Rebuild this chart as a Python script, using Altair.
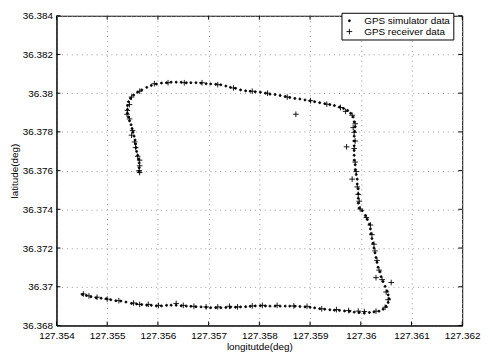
import altair as alt
import pandas as pd

# GPS simulator data (small dots)
sim_lon = [127.35451, 127.35459, 127.35468, 127.35478, 127.35488, 127.35498, 127.35507, 127.35517, 127.35527, 127.35537,
           127.35548, 127.35558, 127.35568, 127.35578, 127.35587, 127.35597, 127.35607, 127.35617, 127.35626, 127.35636,
           127.35646, 127.35656, 127.35665, 127.35675, 127.35685, 127.35695, 127.35704, 127.35714, 127.35724, 127.35734,
           127.35743, 127.35753, 127.35763, 127.35773, 127.35782, 127.35792, 127.35802, 127.35812, 127.35821, 127.35831,
           127.35841, 127.35851, 127.35860, 127.35870, 127.35880, 127.35890, 127.35900, 127.35909, 127.35919, 127.35929,
           127.35939, 127.35948, 127.35958, 127.35968, 127.35978, 127.35987, 127.35997, 127.36007, 127.36017, 127.36026,
           127.36036, 127.36044, 127.36050, 127.36054, 127.36056, 127.36054, 127.36052, 127.36048, 127.36044, 127.36040,
           127.36038, 127.36034, 127.36032, 127.36030, 127.36028, 127.36026, 127.36024, 127.36022, 127.36020, 127.36019,
           127.36017, 127.36013, 127.36009, 127.36003, 127.35997, 127.35995, 127.35995, 127.35995, 127.35995, 127.35993,
           127.35993, 127.35991, 127.35989, 127.35989, 127.35987, 127.35987, 127.35987, 127.35987, 127.35987, 127.35987,
           127.35988, 127.35989, 127.35987, 127.35985, 127.35980, 127.35974, 127.35966, 127.35958, 127.35948, 127.35939,
           127.35929, 127.35919, 127.35909, 127.35900, 127.35890, 127.35880, 127.35870, 127.35860, 127.35851, 127.35841,
           127.35831, 127.35821, 127.35812, 127.35802, 127.35792, 127.35782, 127.35773, 127.35763, 127.35753, 127.35743,
           127.35734, 127.35724, 127.35714, 127.35704, 127.35695, 127.35685, 127.35675, 127.35665, 127.35656, 127.35646,
           127.35636, 127.35626, 127.35617, 127.35607, 127.35597, 127.35587, 127.35578, 127.35568, 127.35560, 127.35552,
           127.35546, 127.35542, 127.35540, 127.35540, 127.35540, 127.35542, 127.35544, 127.35547, 127.35549, 127.35551,
           127.35553, 127.35555, 127.35556, 127.35557, 127.35558, 127.35560, 127.35562, 127.35563, 127.35563, 127.35563]
sim_lat = [36.36960, 36.36955, 36.36948, 36.36943, 36.36941, 36.36938, 36.36933, 36.36928, 36.36926, 36.36921,
           36.36914, 36.36911, 36.36908, 36.36905, 36.36904, 36.36901, 36.36901, 36.36904, 36.36905, 36.36905,
           36.36902, 36.36900, 36.36899, 36.36897, 36.36896, 36.36894, 36.36892, 36.36892, 36.36892, 36.36893,
           36.36894, 36.36894, 36.36896, 36.36897, 36.36899, 36.36901, 36.36902, 36.36901, 36.36900, 36.36900,
           36.36900, 36.36900, 36.36900, 36.36899, 36.36898, 36.36896, 36.36894, 36.36891, 36.36887, 36.36884,
           36.36881, 36.36879, 36.36878, 36.36875, 36.36873, 36.36869, 36.36867, 36.36864, 36.36867, 36.36870,
           36.36874, 36.36884, 36.36899, 36.36919, 36.36938, 36.36958, 36.36978, 36.37002, 36.37027, 36.37052,
           36.37077, 36.37101, 36.37126, 36.37151, 36.37175, 36.37200, 36.37225, 36.37249, 36.37274, 36.37299,
           36.37323, 36.37348, 36.37368, 36.37393, 36.37407, 36.37432, 36.37457, 36.37481, 36.37506, 36.37531,
           36.37556, 36.37580, 36.37605, 36.37630, 36.37654, 36.37679, 36.37704, 36.37728, 36.37753, 36.37778,
           36.37802, 36.37827, 36.37852, 36.37877, 36.37896, 36.37911, 36.37921, 36.37928, 36.37936, 36.37941,
           36.37946, 36.37951, 36.37956, 36.37961, 36.37965, 36.37970, 36.37973, 36.37978, 36.37983, 36.37988,
           36.37993, 36.37995, 36.38000, 36.38005, 36.38007, 36.38010, 36.38012, 36.38017, 36.38025, 36.38030,
           36.38037, 36.38043, 36.38046, 36.38048, 36.38049, 36.38052, 36.38054, 36.38054, 36.38054, 36.38056,
           36.38057, 36.38057, 36.38054, 36.38052, 36.38047, 36.38040, 36.38030, 36.38017, 36.38005, 36.37990,
           36.37973, 36.37956, 36.37936, 36.37916, 36.37896, 36.37877, 36.37857, 36.37837, 36.37817, 36.37798,
           36.37778, 36.37758, 36.37738, 36.37719, 36.37699, 36.37679, 36.37659, 36.37640, 36.37615, 36.37595]

# GPS receiver data (+ markers)
rec_lon = [127.35453, 127.35464, 127.35480, 127.35500, 127.35523, 127.35552, 127.35564, 127.35581, 127.35601, 127.35636,
           127.35650, 127.35671, 127.35695, 127.35718, 127.35741, 127.35757, 127.35786, 127.35806, 127.35835, 127.35868,
           127.35894, 127.35923, 127.35952, 127.35976, 127.35995, 127.36007, 127.36030, 127.36048, 127.36054, 127.36050,
           127.36042, 127.36030, 127.36060, 127.36036, 127.36032, 127.36028, 127.36026, 127.36022, 127.36019, 127.36011,
           127.35999, 127.35997, 127.35995, 127.35993, 127.35983, 127.35991, 127.35989, 127.35972, 127.35987, 127.35989,
           127.35987, 127.35985, 127.35989, 127.35983, 127.35970, 127.35960, 127.35933, 127.35901, 127.35872, 127.35855,
           127.35816, 127.35786, 127.35749, 127.35718, 127.35687, 127.35652, 127.35620, 127.35593, 127.35564, 127.35548,
           127.35544, 127.35540, 127.35539, 127.35544, 127.35550, 127.35548, 127.35554, 127.35556, 127.35560, 127.35564,
           127.35564, 127.35563, 127.35564]
rec_lat = [36.36963, 36.36953, 36.36946, 36.36936, 36.36928, 36.36916, 36.36909, 36.36909, 36.36904, 36.36914,
           36.36904, 36.36899, 36.36896, 36.36896, 36.36899, 36.36896, 36.36901, 36.36904, 36.36904, 36.36901,
           36.36899, 36.36886, 36.36882, 36.36877, 36.36874, 36.36872, 36.36874, 36.36894, 36.36933, 36.36973,
           36.37037, 36.37047, 36.37022, 36.37086, 36.37136, 36.37185, 36.37220, 36.37269, 36.37319, 36.37358,
           36.37402, 36.37442, 36.37477, 36.37516, 36.37556, 36.37595, 36.37644, 36.37723, 36.37714, 36.37753,
           36.37798, 36.37822, 36.37842, 36.37886, 36.37906, 36.37926, 36.37943, 36.37961, 36.37891, 36.37980,
           36.38000, 36.38010, 36.38027, 36.38044, 36.38054, 36.38054, 36.38054, 36.38049, 36.38010, 36.37980,
           36.37941, 36.37911, 36.37891, 36.37867, 36.37807, 36.37783, 36.37748, 36.37719, 36.37674, 36.37654,
           36.37625, 36.37600, 36.37590]

x_ticks = [127.354, 127.355, 127.356, 127.357, 127.358, 127.359, 127.360, 127.361, 127.362]
y_ticks = [36.368, 36.370, 36.372, 36.374, 36.376, 36.378, 36.380, 36.382, 36.384]

series_names = ["GPS simulator data", "GPS receiver data"]

df = pd.concat([
    pd.DataFrame({"lon": sim_lon, "lat": sim_lat, "series": series_names[0]}),
    pd.DataFrame({"lon": rec_lon, "lat": rec_lat, "series": series_names[1]}),
])

W, H = 410, 313
PAD_L, PAD_T, PAD_R = 49, 6, 20
PAD_B = 346 - PAD_T - H
FONT = "Liberation Sans"
PLUS = "M-1,0L1,0M0,-1L0,1"
X_TITLE = "longitutde(deg)"
Y_TITLE = "latitude(deg)"

xs = alt.Scale(domain=[127.354, 127.362], nice=False, zero=False)
ys = alt.Scale(domain=[36.368, 36.384], nice=False, zero=False)

leg = alt.Legend(title=None, orient="none", legendX=288, legendY=-3,
                 strokeColor="black", fillColor="white", padding=3,
                 labelFont=FONT, labelFontSize=10, labelColor="black",
                 rowPadding=1, labelOffset=10, symbolStrokeWidth=0.9,
                 cornerRadius=0)

x_axis = alt.Axis(values=x_ticks, format=".6~f", grid=True, ticks=False,
                  labelOverlap=False, labelFlush=False, labelPadding=5, titlePadding=1)
y_axis = alt.Axis(values=y_ticks, format=".3~f", grid=True, ticks=False,
                  labelOverlap=False, labelFlush=False, labelPadding=4, titlePadding=3)

points = alt.Chart(df).mark_point(stroke="black", strokeWidth=0.9, opacity=1).encode(
    x=alt.X("lon:Q", scale=xs, title=X_TITLE, axis=x_axis),
    y=alt.Y("lat:Q", scale=ys, title=Y_TITLE, axis=y_axis),
    shape=alt.Shape("series:N", scale=alt.Scale(domain=series_names, range=["circle", PLUS]), legend=leg),
    size=alt.Size("series:N", scale=alt.Scale(domain=series_names, range=[4, 32]), legend=leg),
    fill=alt.Fill("series:N", scale=alt.Scale(domain=series_names, range=["black", "transparent"]), legend=leg),
)

xt = pd.DataFrame({"v": x_ticks})
yt = pd.DataFrame({"v": y_ticks})
tick_len = 4
xb = alt.Chart(xt).mark_rule(color="black", strokeWidth=1).encode(
    x=alt.X("v:Q", scale=xs, title=X_TITLE, axis=x_axis), y=alt.value(H), y2=alt.value(H - tick_len))
xtop = alt.Chart(xt).mark_rule(color="black", strokeWidth=1).encode(
    x=alt.X("v:Q", scale=xs, title=X_TITLE, axis=x_axis), y=alt.value(0), y2=alt.value(tick_len))
yl = alt.Chart(yt).mark_rule(color="black", strokeWidth=1).encode(
    y=alt.Y("v:Q", scale=ys, title=Y_TITLE, axis=y_axis), x=alt.value(0), x2=alt.value(tick_len))
yr = alt.Chart(yt).mark_rule(color="black", strokeWidth=1).encode(
    y=alt.Y("v:Q", scale=ys, title=Y_TITLE, axis=y_axis), x=alt.value(W), x2=alt.value(W - tick_len))

chart = alt.layer(points, xb, xtop, yl, yr).properties(
    width=W, height=H,
    autosize=alt.AutoSizeParams(type="none"),
    padding={"left": PAD_L, "top": PAD_T, "right": PAD_R, "bottom": PAD_B},
    background="white",
).configure_view(stroke="black", strokeWidth=1).configure_axis(
    labelFont=FONT, titleFont=FONT, labelFontSize=10, titleFontSize=10,
    labelColor="black", titleColor="black", titleFontWeight="normal",
    domainColor="black", gridColor="#999999", gridDash=[1, 4], gridOpacity=1,
    gridWidth=1, labelOverlap=False,
)

chart.save("out.html", embed_options={"renderer": "svg", "actions": False})
